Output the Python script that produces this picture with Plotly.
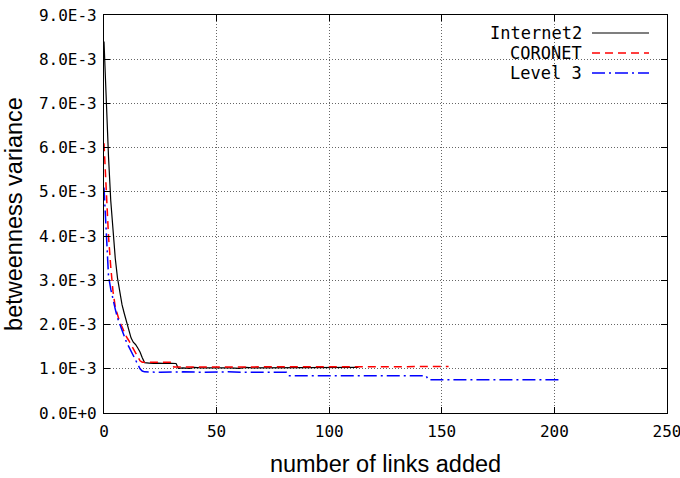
import plotly.graph_objects as go

# ---- data (y values in units of 1E-3) ----
internet2_x = [0, 1, 2, 3, 4, 5, 6, 7, 8, 9, 10, 11, 12, 13, 14, 15, 16, 17, 18,
               20, 22, 24, 26, 28, 30, 32, 33, 35, 38, 40, 43, 46, 50, 53, 56, 60,
               63, 66, 70, 75, 80, 85, 90, 95, 100, 105, 110, 113]
internet2_y = [8.4, 7.0, 5.8, 4.8, 4.05, 3.5, 3.05, 2.7, 2.45, 2.25, 2.05, 1.85,
               1.7, 1.6, 1.55, 1.47, 1.38, 1.25, 1.14,
               1.13, 1.12, 1.13, 1.12, 1.13, 1.13, 1.12, 1.01, 1.02, 1.01, 1.03,
               1.02, 1.02, 1.03, 1.02, 1.02, 1.01, 1.03, 1.02, 1.02, 1.03, 1.02,
               1.02, 1.03, 1.02, 1.03, 1.02, 1.03, 1.03]

coronet_x = [0, 1, 2, 3, 4, 5, 6, 7, 8, 9, 10, 11, 12, 13, 14, 15, 16, 17,
             20, 23, 26, 29, 30, 31, 35, 40, 50, 60, 70, 80, 90, 100, 110, 120,
             130, 140, 150, 153]
coronet_y = [6.1, 5.0, 4.0, 3.3, 2.75, 2.4, 2.2, 2.05, 1.95, 1.82, 1.72, 1.64,
             1.55, 1.45, 1.35, 1.25, 1.18, 1.15,
             1.15, 1.14, 1.15, 1.14, 1.15, 1.04, 1.04, 1.05, 1.04, 1.05, 1.04,
             1.05, 1.04, 1.05, 1.05, 1.04, 1.05, 1.04, 1.05, 1.05]

level3_x = [0, 1, 2, 3, 4, 5, 6, 7, 8, 9, 10, 11, 12, 13, 14, 15, 16, 17, 18,
            25, 35, 45, 55, 65, 75, 81, 82, 90, 100, 110, 120, 130, 143, 144,
            155, 165, 175, 185, 195, 203]
level3_y = [5.1, 3.9, 3.1, 2.8, 2.55, 2.35, 2.15, 2.0, 1.85, 1.7, 1.6, 1.5,
            1.4, 1.3, 1.2, 1.1, 1.0, 0.95, 0.93,
            0.92, 0.93, 0.92, 0.93, 0.92, 0.93, 0.92, 0.84, 0.84, 0.85, 0.84,
            0.84, 0.85, 0.84, 0.75, 0.75, 0.74, 0.75, 0.75, 0.74, 0.75]

series_names = ["Internet2", "CORONET", "Level 3"]
y_tick_vals = [0, 1, 2, 3, 4, 5, 6, 7, 8, 9]
y_tick_text = ["0.0E+0", "1.0E-3", "2.0E-3", "3.0E-3", "4.0E-3",
               "5.0E-3", "6.0E-3", "7.0E-3", "8.0E-3", "9.0E-3"]
x_tick_vals = [0, 50, 100, 150, 200, 250]

SCALE = 1e-3
MONO = "DejaVu Sans Mono"
SANS = "Liberation Sans, Arial, sans-serif"

styles = [
    dict(color="#000000", width=1.2, dash="solid"),
    dict(color="#ff0000", width=1.5, dash="8px,5px"),
    dict(color="#0000ff", width=1.5, dash="13px,4px,2px,4px"),
]

fig = go.Figure()
for name, xs, ys, st in zip(series_names,
                            [internet2_x, coronet_x, level3_x],
                            [internet2_y, coronet_y, level3_y], styles):
    fig.add_trace(go.Scatter(x=xs, y=[v * SCALE for v in ys], mode="lines",
                             name=name, line=st, showlegend=False))

# opaque key box (gnuplot style)
fig.add_shape(type="rect", xref="paper", yref="paper",
              x0=(508 - 104) / 563, x1=(656 - 104) / 563,
              y0=(413 - 85) / 398, y1=(413 - 16) / 398,
              fillcolor="white", line=dict(width=0), layer="between")

legend_rows = [33, 53, 73]
for name, row, st in zip(series_names, legend_rows, styles):
    py = (413 - row) / 398
    fig.add_annotation(text=name, xref="paper", yref="paper",
                       x=(584 - 104) / 563, y=py, xanchor="right",
                       yanchor="middle", showarrow=False,
                       font=dict(family=MONO, size=17, color="black"))
    fig.add_shape(type="line", xref="paper", yref="paper",
                  x0=(592 - 104) / 563, x1=(649 - 104) / 563, y0=py, y1=py,
                  line=st, layer="above")

axis_common = dict(
    showline=True, linecolor="black", linewidth=1.2, mirror="ticks",
    ticks="inside", ticklen=6, tickcolor="black", tickwidth=1,
    showgrid=True, gridcolor="#666666", griddash="1px,2px", gridwidth=1,
    zeroline=False, automargin=False, ticklabeloverflow="allow",
    tickfont=dict(family=MONO, size=16, color="black"),
)

fig.update_xaxes(range=[0, 250], tickvals=x_tick_vals, ticklabelstandoff=4,
                 title=dict(text="number of links added",
                            font=dict(family=SANS, size=23.5, color="black"),
                            standoff=15),
                 **axis_common)
fig.update_yaxes(range=[0, 9 * SCALE], tickvals=[v * SCALE for v in y_tick_vals],
                 ticktext=y_tick_text, ticklabelstandoff=3,
                 title=dict(text="betweenness variance",
                            font=dict(family=SANS, size=23.5, color="black"),
                            standoff=9),
                 **axis_common)

fig.update_layout(width=680, height=478,
                  margin=dict(l=104, r=13, t=15, b=65),
                  plot_bgcolor="white", paper_bgcolor="white")

fig.write_html("out.html", config={"displayModeBar": False},
               post_script="document.body.style.margin='0';"
                           "document.body.style.padding='0';")
